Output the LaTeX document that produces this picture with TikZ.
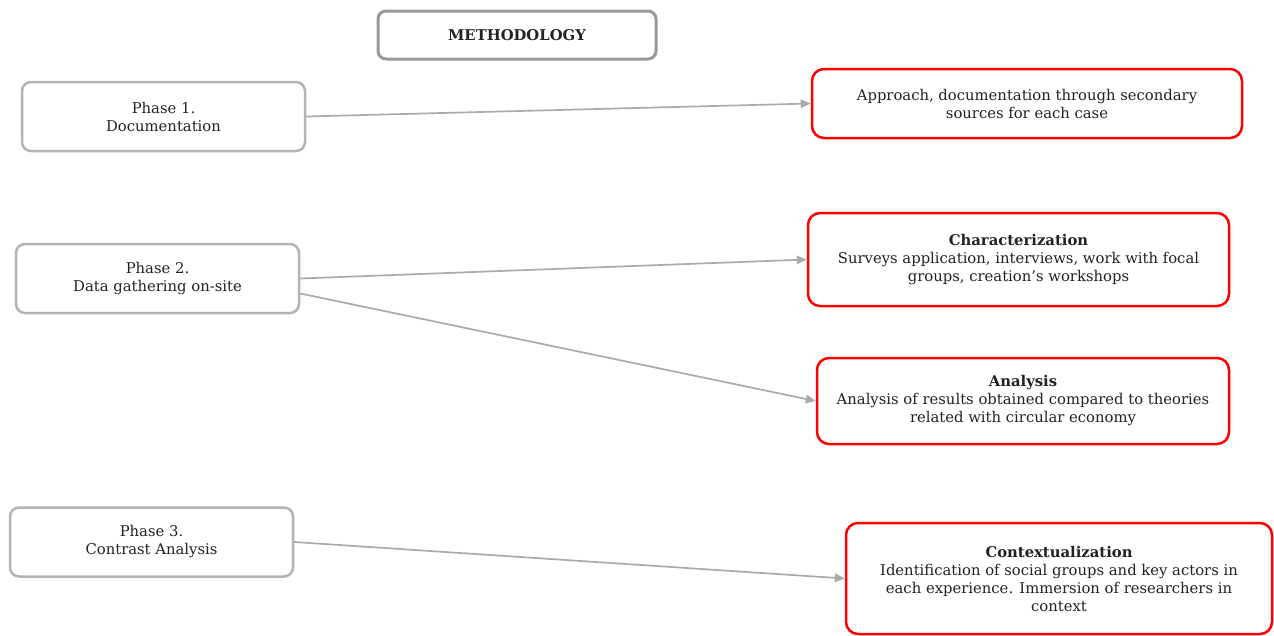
\documentclass[tikz,border=0pt]{standalone}
\usepackage{fontspec}
\setmainfont{DejaVu Serif}
\usetikzlibrary{arrows.meta}
\definecolor{phasegray}{HTML}{B3B3B3}
\definecolor{titlegray}{HTML}{999999}
\definecolor{linkgray}{HTML}{AAAAAA}
\definecolor{txt}{HTML}{222222}
\tikzset{
  phasebox/.style={draw=phasegray, line width=2.5pt, rounded corners=9pt, align=center, text=txt,
    minimum width=283pt, minimum height=69pt, inner sep=0pt, font=\fontsize{14.8}{18}\selectfont},
  taskbox/.style={draw=red, line width=2.5pt, rounded corners=12pt, align=center, text=txt,
    inner sep=0pt, font=\fontsize{14.8}{18}\selectfont},
  link/.style={draw=linkgray, line width=1.7pt, -{Triangle[length=10pt,width=8.5pt]}}
}
\begin{document}
\begin{tikzpicture}[x=1pt, y=-1pt]
  \useasboundingbox (0,0) rectangle (1274,635);
  % ---- Title ----
  \node[draw=titlegray, line width=3pt, rounded corners=8pt, minimum width=278pt, minimum height=48pt,
    text=txt, font=\fontsize{14.8}{18}\selectfont\bfseries] (title) at (517,35) {METHODOLOGY};

  % ---- Phases ----
  \node[phasebox] (p1) at (163.5,116.5) {Phase 1.\\Documentation};
  \node[phasebox] (p2) at (157.5,278.5) {Phase 2.\\Data gathering on-site};
  \node[phasebox] (p3) at (151.5,542) {Phase 3.\\Contrast Analysis};

  % ---- Tasks ----
  \node[taskbox, minimum width=430pt, minimum height=69pt] (approach) at (1027,103.5)
    {Approach, documentation through secondary\\sources for each case};
  \node[taskbox, minimum width=421pt, minimum height=93pt] (charact) at (1018.5,259.5)
    {\textbf{Characterization}\\Surveys application, interviews, work with focal\\groups, creation’s workshops};
  \node[taskbox, minimum width=412pt, minimum height=86pt] (analysis) at (1023,401)
    {\textbf{Analysis}\\Analysis of results obtained compared to theories\\related with circular economy};
  \node[taskbox, minimum width=426pt, minimum height=111pt] (context) at (1059,578.5)
    {\textbf{Contextualization}\\Identification of social groups and key actors in\\each experience. Immersion of researchers in\\context};

  % ---- Links ----
  \draw[link] (p1.east) -- (approach.west);
  \draw[link] (p2.east) -- (charact.west);
  \draw[link] ([yshift=-15pt]p2.east) -- (analysis.west);
  \draw[link] (p3.east) -- (context.west);
\end{tikzpicture}
\end{document}
